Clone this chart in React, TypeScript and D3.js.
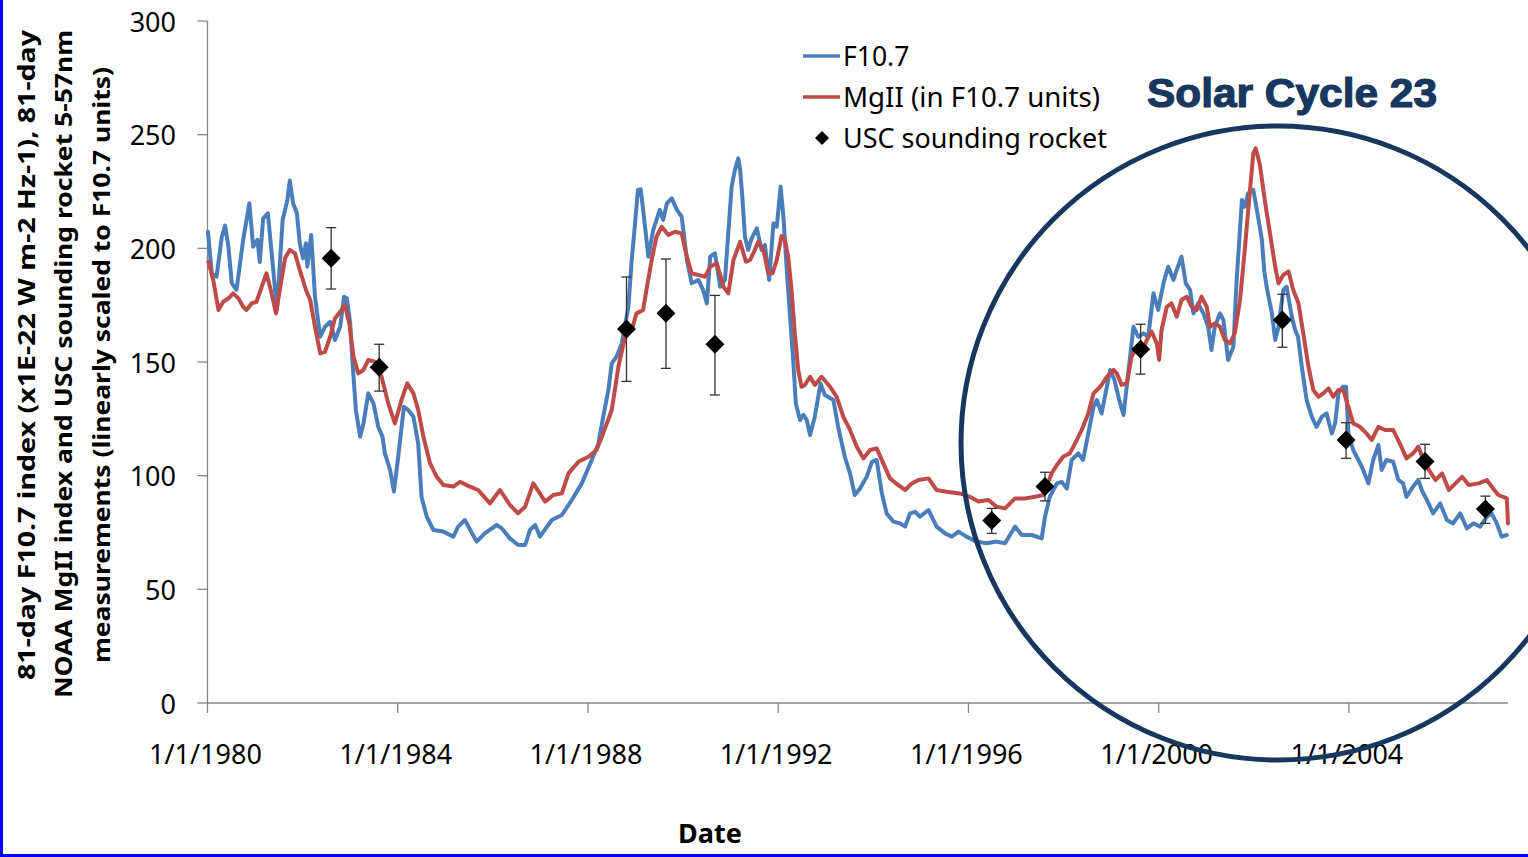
import React from 'react';
import * as d3 from 'd3';

// 81-day F10.7 index: [decimal year, value]
const F107: [number, number][] = [
  [1980.01, 207.3], [1980.09, 189], [1980.19, 187.5], [1980.3, 205], [1980.37, 210], [1980.44, 200.7],
  [1980.51, 184.7], [1980.61, 181.7], [1980.75, 203.7], [1980.88, 219.8], [1980.96, 200.7], [1981.05, 203.7],
  [1981.1, 194], [1981.17, 213.2], [1981.27, 215.4], [1981.35, 197.8], [1981.46, 172.9], [1981.58, 212.5],
  [1981.68, 221.3], [1981.73, 229.8], [1981.8, 219.8], [1981.88, 215.4], [1981.94, 202.2], [1982.01, 195.6],
  [1982.07, 202.2], [1982.1, 192], [1982.18, 205.9], [1982.26, 178.7], [1982.37, 161.1], [1982.47, 165.5],
  [1982.58, 167.7], [1982.68, 159.7], [1982.79, 165.5], [1982.87, 178.7], [1982.93, 178], [1983.0, 167],
  [1983.05, 149.4], [1983.12, 128.9], [1983.21, 117.1], [1983.28, 123], [1983.38, 136.2], [1983.49, 131.8],
  [1983.59, 121.5], [1983.68, 117.1], [1983.73, 109.8], [1983.84, 102.5], [1983.92, 93], [1984.01, 108.3],
  [1984.13, 130.3], [1984.22, 128.9], [1984.33, 125.9], [1984.43, 114.2], [1984.5, 90.7], [1984.61, 82],
  [1984.75, 76.1], [1984.96, 75.4], [1985.17, 73.2], [1985.27, 77.6], [1985.41, 80.5], [1985.66, 71],
  [1985.83, 74.6], [1986.08, 78.3], [1986.19, 76.8], [1986.36, 72.4], [1986.53, 69.5], [1986.68, 69.5],
  [1986.78, 76.1], [1986.89, 78.3], [1986.99, 73.2], [1987.24, 80.5], [1987.45, 82.7], [1987.66, 89.3],
  [1987.87, 96.6], [1988.08, 106.9], [1988.22, 114.2], [1988.32, 125.9], [1988.43, 137.7], [1988.5, 149.4],
  [1988.6, 152.3], [1988.71, 158.2], [1988.85, 174.3], [1988.92, 194.9], [1988.99, 211], [1989.05, 225.7],
  [1989.11, 226], [1989.2, 209.5], [1989.27, 196.3], [1989.37, 208], [1989.51, 216.9], [1989.58, 212.5],
  [1989.66, 219.8], [1989.76, 222], [1989.87, 216.9], [1989.97, 213.9], [1990.08, 194.9], [1990.18, 184.6],
  [1990.32, 186.1], [1990.42, 181.7], [1990.5, 175.8], [1990.57, 196.3], [1990.67, 197.8], [1990.78, 183.1],
  [1990.88, 186.1], [1990.95, 206.6], [1991.02, 227], [1991.09, 234.5], [1991.16, 239.6], [1991.2, 234.5],
  [1991.25, 221.3], [1991.3, 205.1], [1991.37, 199.3], [1991.44, 204.4], [1991.55, 208.8], [1991.65, 199.3],
  [1991.72, 201.5], [1991.81, 186.1], [1991.9, 211], [1991.97, 209.5], [1992.05, 227.1], [1992.11, 213.9],
  [1992.18, 190.5], [1992.25, 169.9], [1992.32, 149.4], [1992.37, 131.8], [1992.46, 124.5], [1992.53, 126.7],
  [1992.6, 124.5], [1992.67, 117.9], [1992.77, 125.9], [1992.89, 140.6], [1992.98, 135.5], [1993.16, 133.3],
  [1993.26, 121.5], [1993.4, 108.3], [1993.51, 101], [1993.61, 91.5], [1993.72, 94.4], [1993.86, 99.5],
  [1993.97, 106.1], [1994.07, 106.9], [1994.18, 92.2], [1994.28, 83.4], [1994.42, 79.8], [1994.56, 79],
  [1994.67, 77.6], [1994.77, 83.4], [1994.88, 84.1], [1994.98, 82], [1995.16, 84.9], [1995.33, 77.6],
  [1995.51, 74.6], [1995.65, 73.2], [1995.79, 75.4], [1995.96, 73.2], [1996.17, 71], [1996.38, 70.3],
  [1996.59, 71], [1996.77, 70.3], [1996.98, 77.6], [1997.12, 73.9], [1997.33, 73.9], [1997.54, 72.4],
  [1997.61, 82], [1997.71, 90.7], [1997.86, 96.6], [1997.96, 97.3], [1998.07, 94.4], [1998.17, 106.9],
  [1998.31, 109.8], [1998.41, 106.9], [1998.52, 118.6], [1998.63, 130.3], [1998.7, 133.3], [1998.8, 127.4],
  [1998.91, 139.1], [1998.98, 146.5], [1999.07, 142.1], [1999.17, 133.3], [1999.26, 126.7], [1999.36, 145],
  [1999.47, 165.5], [1999.57, 161.1], [1999.68, 162.6], [1999.78, 161.1], [1999.89, 180.2], [1999.99, 172.9],
  [2000.1, 184.6], [2000.2, 191.9], [2000.31, 186.1], [2000.38, 190.5], [2000.48, 196.3], [2000.57, 184.6],
  [2000.66, 181.7], [2000.73, 171.4], [2000.83, 175.8], [2000.94, 171.4], [2001.04, 165.5], [2001.11, 155.3],
  [2001.18, 165.5], [2001.29, 171.4], [2001.36, 168.5], [2001.46, 150.9], [2001.57, 156.7], [2001.64, 186.1],
  [2001.75, 221.3], [2001.81, 218.3], [2001.88, 224.2], [2001.99, 225.7], [2002.09, 213.9], [2002.17, 203.7],
  [2002.22, 190], [2002.27, 183.1], [2002.38, 171.4], [2002.45, 159.7], [2002.52, 165.5], [2002.62, 181.7],
  [2002.69, 183.1], [2002.8, 169.9], [2002.87, 164.1], [2002.93, 161.1], [2003.01, 147.9], [2003.11, 133.3],
  [2003.22, 125.9], [2003.32, 121.5], [2003.43, 125.9], [2003.53, 127.4], [2003.64, 118.6], [2003.71, 123],
  [2003.78, 136.2], [2003.87, 139.1], [2003.94, 139.1], [2003.99, 118.6], [2004.09, 111.3], [2004.2, 106.9],
  [2004.3, 102.5], [2004.41, 96.6], [2004.51, 106.9], [2004.62, 113.5], [2004.69, 102.5], [2004.79, 106.9],
  [2004.93, 106.1], [2005.04, 98.1], [2005.14, 96.6], [2005.21, 90.7], [2005.35, 95.2], [2005.46, 98.1],
  [2005.53, 93.7], [2005.64, 89.3], [2005.77, 83.4], [2005.92, 87.8], [2006.06, 80.5], [2006.19, 79],
  [2006.34, 83.4], [2006.48, 76.8], [2006.62, 79], [2006.76, 77.6], [2006.9, 82], [2007.0, 83.4],
  [2007.11, 79], [2007.21, 73.2], [2007.32, 73.9],
];

// NOAA MgII index in F10.7 units: [decimal year, value]
const MGII: [number, number][] = [
  [1980.02, 194.1], [1980.12, 186.1], [1980.23, 172.9], [1980.33, 176.5], [1980.44, 178], [1980.54, 180.2],
  [1980.65, 178], [1980.75, 174.3], [1980.82, 172.9], [1980.93, 175.8], [1981.03, 176.5], [1981.14, 183.1],
  [1981.24, 189], [1981.33, 181.7], [1981.44, 171.4], [1981.52, 181.7], [1981.63, 195.6], [1981.73, 199.3],
  [1981.84, 197.8], [1981.94, 190.5], [1982.07, 181.7], [1982.16, 177.3], [1982.26, 165.5], [1982.37, 153.8],
  [1982.47, 154.5], [1982.58, 161.1], [1982.68, 169.2], [1982.82, 172.9], [1982.89, 175.1], [1982.98, 167],
  [1983.07, 152.3], [1983.17, 145], [1983.28, 146.5], [1983.38, 150.9], [1983.52, 150.1], [1983.66, 143.5],
  [1983.8, 131.8], [1983.94, 123], [1984.08, 133.3], [1984.2, 140.6], [1984.33, 136.2], [1984.43, 128.9],
  [1984.54, 117.1], [1984.68, 105.4], [1984.82, 99.5], [1984.96, 95.9], [1985.17, 95.2], [1985.31, 97.3],
  [1985.48, 95.5], [1985.69, 93.7], [1985.94, 87.8], [1986.15, 93.7], [1986.36, 87.1], [1986.53, 83.4],
  [1986.68, 86.4], [1986.85, 96.6], [1987.1, 88.6], [1987.27, 91.5], [1987.45, 92.2], [1987.59, 101],
  [1987.8, 106.1], [1988.01, 108.3], [1988.18, 111.3], [1988.32, 118.6], [1988.5, 128.9], [1988.64, 147.9],
  [1988.78, 161.1], [1988.92, 164.1], [1989.02, 171.4], [1989.16, 172.9], [1989.23, 181.7], [1989.34, 194.9],
  [1989.44, 205.1], [1989.55, 209.5], [1989.69, 205.9], [1989.83, 207.3], [1989.97, 206.6], [1990.08, 196.3],
  [1990.18, 189], [1990.32, 188.3], [1990.46, 187.5], [1990.57, 191.9], [1990.71, 193.4], [1990.85, 183.1],
  [1990.95, 180.2], [1991.06, 194.9], [1991.2, 202.9], [1991.32, 194.1], [1991.41, 194.9], [1991.51, 199.3],
  [1991.58, 202.9], [1991.69, 199.3], [1991.79, 189], [1991.88, 189], [1991.97, 194.9], [1992.07, 205.4],
  [1992.14, 203.7], [1992.21, 196.3], [1992.28, 181.7], [1992.35, 162.6], [1992.42, 146.5], [1992.49, 139.1],
  [1992.56, 139.9], [1992.67, 143.5], [1992.77, 139.9], [1992.91, 143.5], [1993.09, 139.1], [1993.23, 134.7],
  [1993.37, 125.9], [1993.51, 120.1], [1993.65, 112.8], [1993.79, 107.6], [1993.93, 111.3], [1994.07, 112],
  [1994.21, 105.4], [1994.35, 98.8], [1994.52, 95.9], [1994.67, 93.7], [1994.81, 96.6], [1994.95, 98.1],
  [1995.16, 98.8], [1995.33, 93.7], [1995.54, 92.9], [1995.82, 92.2], [1996.03, 90.7], [1996.21, 88.6],
  [1996.42, 89.3], [1996.59, 86.4], [1996.77, 85.6], [1996.98, 90], [1997.19, 90], [1997.4, 90.7],
  [1997.57, 91.5], [1997.75, 101], [1997.86, 104.7], [1997.99, 108.3], [1998.13, 109.8], [1998.28, 115.7],
  [1998.41, 121.5], [1998.52, 127.4], [1998.63, 136.2], [1998.77, 139.1], [1998.91, 143.5], [1999.05, 146.5],
  [1999.12, 145], [1999.22, 139.9], [1999.33, 140.6], [1999.43, 152.3], [1999.54, 156.7], [1999.64, 153.8],
  [1999.75, 159.7], [1999.85, 163.4], [1999.96, 158.2], [2000.01, 150.9], [2000.06, 164.1], [2000.17, 174.3],
  [2000.27, 175.8], [2000.38, 169.9], [2000.48, 177.3], [2000.59, 178.7], [2000.69, 174.3], [2000.8, 172.9],
  [2000.9, 178.7], [2001.01, 174.3], [2001.08, 165.5], [2001.18, 167], [2001.29, 165.5], [2001.39, 159.7],
  [2001.5, 158.2], [2001.6, 162.6], [2001.71, 177.3], [2001.81, 199.3], [2001.92, 225.7], [2001.99, 241.8],
  [2002.04, 244], [2002.13, 236.5], [2002.23, 221.3], [2002.34, 206.6], [2002.45, 191.9], [2002.52, 184.6],
  [2002.62, 188.3], [2002.73, 189.8], [2002.83, 181.7], [2002.94, 175.8], [2003.04, 162.6], [2003.15, 147.9],
  [2003.25, 137.7], [2003.36, 134.7], [2003.46, 136.2], [2003.57, 138.4], [2003.67, 134.7], [2003.78, 137.7],
  [2003.88, 137.7], [2003.99, 130.3], [2004.09, 123], [2004.23, 121.5], [2004.37, 118.6], [2004.48, 115.7],
  [2004.62, 121.5], [2004.76, 120.1], [2004.93, 120.1], [2005.07, 114.2], [2005.21, 107.6], [2005.35, 109.8],
  [2005.46, 112.8], [2005.54, 108.3], [2005.68, 102.5], [2005.82, 98.1], [2005.96, 101], [2006.1, 93.7],
  [2006.24, 96.6], [2006.38, 99.5], [2006.52, 95.9], [2006.73, 96.6], [2006.9, 98.1], [2007.0, 95.2],
  [2007.14, 91.5], [2007.32, 90], [2007.345, 79],
];

// USC sounding rocket measurements
const ROCKET_YEARS = [1982.6, 1983.61, 1988.81, 1989.64, 1990.67, 1996.49, 1997.61, 1999.62, 2002.6, 2003.94, 2005.6, 2006.87];
const ROCKET_VALUES = [195.6, 147.7, 164.5, 171.4, 157.8, 80.3, 95.2, 155.6, 168.5, 115.7, 106.2, 85.3];
const ROCKET_HIGH = [209.1, 157.8, 187.4, 195.3, 179.3, 85.6, 101.5, 166.6, 179.8, 123.3, 113.8, 91];
const ROCKET_LOW = [182.1, 137.2, 141.5, 147.2, 135.5, 74.6, 88.9, 144.7, 156.5, 107.6, 98.8, 79];

const Y_TICKS = [0, 50, 100, 150, 200, 250, 300];
const X_TICK_YEARS = [1980, 1984, 1988, 1992, 1996, 2000, 2004];
const X_TICK_LABELS = ['1/1/1980', '1/1/1984', '1/1/1988', '1/1/1992', '1/1/1996', '1/1/2000', '1/1/2004'];

const Y_TITLE = [
  '81-day F10.7 index (x1E-22 W m-2 Hz-1), 81-day',
  'NOAA MgII index and USC sounding rocket 5-57nm',
  'measurements (linearly scaled to F10.7 units)',
];
const LEGEND = ['F10.7', 'MgII (in F10.7 units)', 'USC sounding rocket'];

const FONT = '"Noto Sans", "Open Sans", "DejaVu Sans", sans-serif';
const BLUE = '#4A7EBB';
const RED = '#BE4B48';
const AXIS = '#868686';
const NAVY = '#17375E';

export default function App() {
  React.useEffect(() => {
    document.body.style.margin = '0';
    document.body.style.overflow = 'hidden';
  }, []);

  const W = 1528, H = 857;
  const left = 207.5, right = 1508, top = 21, bottom = 703;
  const x = d3.scaleLinear().domain([1980, 2007.345]).range([left, right]);
  const y = d3.scaleLinear().domain([0, 300]).range([bottom, top]);
  const line = d3.line<[number, number]>().x(d => x(d[0])).y(d => y(d[1]));

  const diamond = (cx: number, cy: number, r: number) =>
    `M${cx},${cy - r}L${cx + r},${cy}L${cx},${cy + r}L${cx - r},${cy}Z`;

  return (
    <svg width={W} height={H} style={{ position: 'absolute', left: 0, top: 0, background: '#fff' }} fontFamily={FONT}>
      <rect x={0} y={0} width={W} height={H} fill="#fff" />

      {/* axes */}
      <line x1={left} x2={left} y1={top} y2={bottom} stroke={AXIS} strokeWidth={1.3} />
      <line x1={left} x2={right} y1={bottom} y2={bottom} stroke={AXIS} strokeWidth={1.3} />
      {Y_TICKS.map(t => (
        <g key={'y' + t}>
          <line x1={left - 10} x2={left} y1={y(t)} y2={y(t)} stroke={AXIS} strokeWidth={1.3} />
          <text x={176} y={y(t)} textAnchor="end" dominantBaseline="central" fontSize={27} fill="#000">{t}</text>
        </g>
      ))}
      {X_TICK_YEARS.map((t, i) => (
        <g key={'x' + t}>
          <line x1={x(t)} x2={x(t)} y1={bottom} y2={bottom + 10} stroke={AXIS} strokeWidth={1.3} />
          <text x={x(t) - 2} y={753} textAnchor="middle" dominantBaseline="central" fontSize={27} fill="#000">{X_TICK_LABELS[i]}</text>
        </g>
      ))}

      {/* series */}
      <path d={line(F107) ?? ''} fill="none" stroke={BLUE} strokeWidth={4} strokeLinejoin="round" strokeLinecap="round" />
      <path d={line(MGII) ?? ''} fill="none" stroke={RED} strokeWidth={4} strokeLinejoin="round" strokeLinecap="round" />

      {/* rocket points with error bars */}
      {ROCKET_YEARS.map((yr, i) => {
        const cx = x(yr);
        return (
          <g key={'r' + i}>
            <line x1={cx} x2={cx} y1={y(ROCKET_HIGH[i])} y2={y(ROCKET_LOW[i])} stroke="#333" strokeWidth={1.3} />
            <line x1={cx - 5} x2={cx + 5} y1={y(ROCKET_HIGH[i])} y2={y(ROCKET_HIGH[i])} stroke="#333" strokeWidth={1.3} />
            <line x1={cx - 5} x2={cx + 5} y1={y(ROCKET_LOW[i])} y2={y(ROCKET_LOW[i])} stroke="#333" strokeWidth={1.3} />
            <path d={diamond(cx, y(ROCKET_VALUES[i]), 9.5)} fill="#000" />
          </g>
        );
      })}

      {/* legend */}
      <line x1={803} x2={840} y1={56} y2={56} stroke={BLUE} strokeWidth={3.5} />
      <text x={843} y={56} dominantBaseline="central" fontSize={26.5} fill="#000">{LEGEND[0]}</text>
      <line x1={803} x2={840} y1={97} y2={97} stroke={RED} strokeWidth={3.5} />
      <text x={843} y={97} dominantBaseline="central" fontSize={26.5} fill="#000" textLength={257} lengthAdjust="spacingAndGlyphs">{LEGEND[1]}</text>
      <path d={diamond(822, 138, 7)} fill="#000" />
      <text x={843} y={138} dominantBaseline="central" fontSize={26.5} fill="#000" textLength={264} lengthAdjust="spacingAndGlyphs">{LEGEND[2]}</text>

      {/* y title */}
      {Y_TITLE.map((s, i) => (
        <text key={'t' + i} transform={`translate(${25 + i * 37.5},${[355, 364, 365][i]}) rotate(-90)`}
          textAnchor="middle" dominantBaseline="central" fontSize={24} fontWeight="bold" fill="#000"
          textLength={[650, 668, 596][i]} lengthAdjust="spacingAndGlyphs">{s}</text>
      ))}

      {/* x title */}
      <text x={710} y={832} textAnchor="middle" dominantBaseline="central" fontSize={27} fontWeight="bold" fill="#000">Date</text>

      {/* annotation */}
      <text x={1147} y={107} fontSize={40} fontWeight="bold" fontFamily='"Liberation Sans", Arial, sans-serif' fill={NAVY}
        stroke={NAVY} strokeWidth={1.2} textLength={290} lengthAdjust="spacingAndGlyphs">Solar Cycle 23</text>
      <circle cx={1278} cy={443} r={317} fill="none" stroke={NAVY} strokeWidth={5} />

      {/* frame */}
      <line x1={1.5} x2={1.5} y1={0} y2={H} stroke="#0000FF" strokeWidth={3} />
      <line x1={0} x2={W} y1={855.5} y2={855.5} stroke="#0000FF" strokeWidth={3} />
    </svg>
  );
}
